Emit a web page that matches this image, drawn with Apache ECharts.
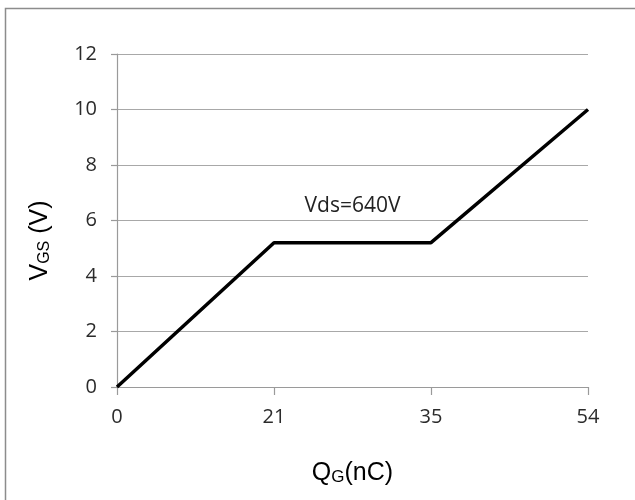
<!DOCTYPE html>
<html>
<head>
<meta charset="utf-8">
<script src="https://cdn.jsdelivr.net/npm/echarts@6/dist/echarts.min.js"></script>
<style>html,body{margin:0;padding:0;background:#fff}#c{width:635px;height:500px}</style>
</head>
<body>
<div id="c"></div>
<script>
const categories = ['0', '21', '35', '54'];
const vgsValues = [0, 5.2, 5.2, 10];
const yTicks = { min: 0, max: 12, interval: 2 };
const annotationText = 'Vds=640V';
const annotationFrom = ['21', 5.95];
const annotationTo = ['35', 5.95];

const chart = echarts.init(document.getElementById('c'), null, { renderer: 'canvas' });
const tickFont = '"Open Sans", Lato, sans-serif';
const titleFont = '"Liberation Sans", Arial, sans-serif';
chart.setOption({
  animation: false,
  backgroundColor: '#fff',
  graphic: [{
    type: 'rect',
    shape: { x: 5.5, y: 8.5, width: 700, height: 600 },
    style: { fill: 'none', stroke: '#8c8c8c', lineWidth: 1.5 },
    silent: true
  }],
  grid: { left: 117, right: 47, top: 54, bottom: 113, containLabel: false },
  xAxis: {
    type: 'category',
    data: categories,
    boundaryGap: false,
    axisLine: { lineStyle: { color: '#9a9a9a', width: 1.2 } },
    axisTick: { show: true, length: 8, lineStyle: { color: '#9a9a9a', width: 1.2 } },
    axisLabel: { color: '#2b2b2b', fontFamily: tickFont, fontSize: 20, margin: 20 },
    splitLine: { show: false },
    name: '{a|Q}{s|G}{a|(nC)}',
    nameLocation: 'middle',
    nameGap: 71,
    nameTextStyle: {
      rich: {
        a: { fontFamily: titleFont, fontSize: 25, color: '#000', lineHeight: 28, verticalAlign: 'bottom' },
        s: { fontFamily: titleFont, fontSize: 17, color: '#000', lineHeight: 21, verticalAlign: 'bottom' }
      }
    }
  },
  yAxis: {
    type: 'value',
    min: yTicks.min,
    max: yTicks.max,
    interval: yTicks.interval,
    axisLine: { show: true, lineStyle: { color: '#9a9a9a', width: 1.2 } },
    axisTick: { show: true, length: 6, lineStyle: { color: '#9a9a9a', width: 1.2 } },
    axisLabel: { color: '#2b2b2b', fontFamily: tickFont, fontSize: 20, margin: 20 },
    splitLine: { show: true, lineStyle: { color: '#a8a8a8', width: 1.2 } },
    name: '{a|V}{s|GS}{a| (V)}',
    nameLocation: 'middle',
    nameRotate: 90,
    nameGap: 64,
    nameTextStyle: {
      padding: [0, 40, 0, 0],
      rich: {
        a: { fontFamily: titleFont, fontSize: 25, color: '#000', lineHeight: 28, verticalAlign: 'bottom' },
        s: { fontFamily: titleFont, fontSize: 16, color: '#000', lineHeight: 21, verticalAlign: 'bottom' }
      }
    }
  },
  series: [{
    type: 'line',
    data: vgsValues,
    symbol: 'none',
    lineStyle: { color: '#000', width: 3.5 },
    markLine: {
      silent: true,
      symbol: 'none',
      lineStyle: { color: 'rgba(0,0,0,0)', width: 0, type: 'solid' },
      data: [[{ coord: annotationFrom }, { coord: annotationTo }]],
      label: {
        show: true,
        position: 'middle',
        formatter: annotationText,
        color: '#222',
        fontFamily: tickFont,
        fontSize: 21
      }
    }
  }]
});
</script>
</body>
</html>
